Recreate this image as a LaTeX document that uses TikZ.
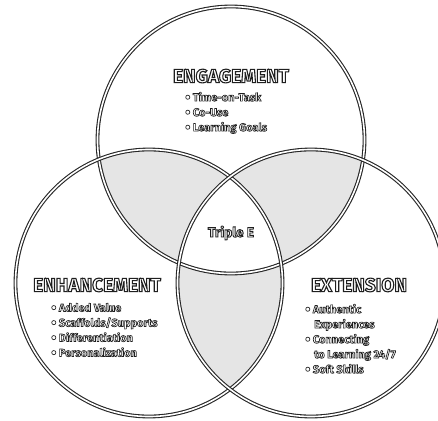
\documentclass[tikz,border=0pt]{standalone}
\usepackage{fontspec}
\setmainfont{Fira Sans}
\newcommand\outl[2][1.1]{\special{pdf:literal direct 2 Tr #1 w 0.12 G 1 g}#2\special{pdf:literal direct 0 Tr 0 g 0 G}}
\newcommand\bul{\raisebox{-1.2pt}{\fontsize{15}{15}\selectfont •}\hspace{2.5pt}}
\newcommand\itm[1]{\outl[0.65]{#1}}
\tikzset{
  ring/.style={draw=black!85, line width=1.1pt, double=white, double distance=1.6pt},
  title/.style={inner sep=0pt, font=\fontsize{19}{20}\selectfont\bfseries},
  items/.style={inner sep=0pt, anchor=north west, align=left, font=\fontsize{11}{15}\selectfont\bfseries},
  center/.style={inner sep=0pt, font=\fontsize{13.5}{15}\selectfont\bfseries},
}
\begin{document}
\begin{tikzpicture}[x=1pt,y=-1pt]
\fill[white] (0,0) rectangle (438,420);
\useasboundingbox (0,0) rectangle (438,420);
\def\rr{133.5}
\coordinate (T) at (231,140);
\coordinate (L) at (149,283);
\coordinate (R) at (311,283);
% pairwise overlaps in grey
\begin{scope}
  \clip (T) circle (\rr);
  \fill[gray!20] (L) circle (\rr);
  \fill[gray!20] (R) circle (\rr);
\end{scope}
\begin{scope}
  \clip (L) circle (\rr);
  \fill[gray!20] (R) circle (\rr);
\end{scope}
% triple overlap in white
\begin{scope}
  \clip (T) circle (\rr);
  \clip (L) circle (\rr);
  \fill[white] (R) circle (\rr);
\end{scope}
\draw[ring] (T) circle (\rr);
\draw[ring] (L) circle (\rr);
\draw[ring] (R) circle (\rr);
% texts
\node[title] (engt) at (231,76) {\outl{ENGAGEMENT}};
\node[items] (engl) at (185,92) {\itm{\bul Time-on-Task}\\\itm{\bul Co-Use}\\\itm{\bul Learning Goals}};
\node[title] (enht) at (97,285) {\outl{ENHANCEMENT}};
\node[items] (enhl) at (51,303) {\itm{\bul Added Value}\\\itm{\bul Scaffolds/Supports}\\\itm{\bul Differentiation}\\\itm{\bul Personalization}};
\node[title] (extt) at (359,285) {\outl{EXTENSION}};
\node[items] (extl) at (305,304) {\itm{\bul Authentic}\\\hspace{9pt}\itm{Experiences}\\\itm{\bul Connecting}\\\hspace{9pt}\itm{to Learning 24/7}\\\itm{\bul Soft Skills}};
\node[center] (tri) at (231,233) {\outl[0.9]{Triple E}};
\end{tikzpicture}
\end{document}
